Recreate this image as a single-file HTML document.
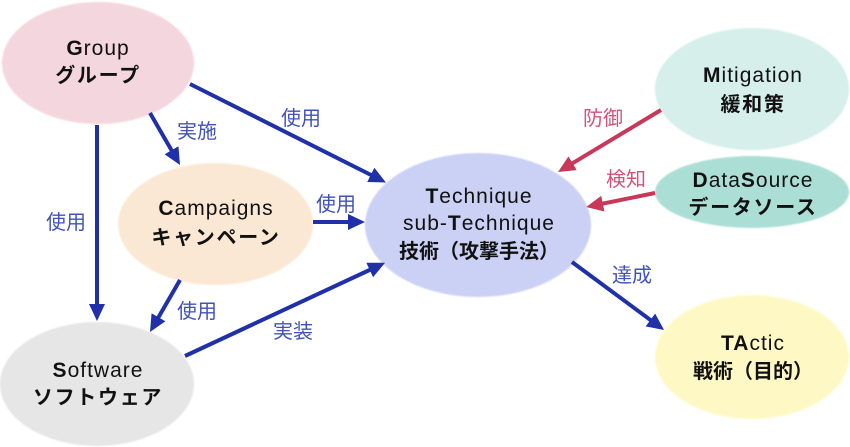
<!DOCTYPE html>
<html><head><meta charset="utf-8"><style>
html,body{margin:0;padding:0;background:#fff;}
svg{display:block;}
.n{font-family:"Liberation Sans","Noto Sans CJK JP",sans-serif;font-size:21px;fill:#111;letter-spacing:1px;}
.j{font-family:"Liberation Sans","Noto Sans CJK JP",sans-serif;font-size:20px;font-weight:bold;fill:#111;letter-spacing:1.7px;}
.l{font-family:"Liberation Sans","Noto Sans CJK JP",sans-serif;font-size:20px;fill:#4152b9;}
.r{font-family:"Liberation Sans","Noto Sans CJK JP",sans-serif;font-size:20px;fill:#cf5479;}
</style></head><body>
<svg width="850" height="447" viewBox="0 0 850 447" xmlns="http://www.w3.org/2000/svg">
<defs>
<filter id="s" x="-5%" y="-5%" width="110%" height="110%"><feGaussianBlur stdDeviation="0.9"/></filter>
<marker id="mb" markerUnits="userSpaceOnUse" markerWidth="18" markerHeight="18" refX="7" refY="8" orient="auto"><path d="M0,0 L17,8 L0,16 z" fill="#1f30a8"/></marker>
<marker id="mr" markerUnits="userSpaceOnUse" markerWidth="18" markerHeight="18" refX="7" refY="8" orient="auto"><path d="M0,0 L17,8 L0,16 z" fill="#c8385a"/></marker>
</defs>
<g filter="url(#s)">
<ellipse cx="98" cy="63" rx="96" ry="61" fill="#f4d6de"/>
<ellipse cx="215.5" cy="224" rx="97.5" ry="61" fill="#fbe8d4"/>
<ellipse cx="97" cy="384" rx="97" ry="62" fill="#e6e6e6"/>
<ellipse cx="478" cy="225" rx="113" ry="72" fill="#cbd0f5"/>
<ellipse cx="752" cy="89" rx="97" ry="61" fill="#d6efeb"/>
<ellipse cx="752" cy="192" rx="97" ry="36" fill="#abdfd6"/>
<ellipse cx="752" cy="357" rx="97" ry="62" fill="#fef9c4"/>
</g>
<g stroke="#1f30a8" stroke-width="4" fill="none">
<line x1="190" y1="84" x2="377" y2="178" marker-end="url(#mb)"/>
<line x1="150" y1="113" x2="175" y2="156.3" marker-end="url(#mb)"/>
<line x1="97" y1="125" x2="97" y2="311" marker-end="url(#mb)"/>
<line x1="313" y1="222" x2="355" y2="222" marker-end="url(#mb)"/>
<line x1="180" y1="280" x2="155" y2="323.3" marker-end="url(#mb)"/>
<line x1="185" y1="356" x2="376" y2="267" marker-end="url(#mb)"/>
<line x1="572" y1="262" x2="656" y2="324.1" marker-end="url(#mb)"/>
</g>
<g stroke="#c8385a" stroke-width="4" fill="none">
<line x1="661" y1="110" x2="566.6" y2="166.8" marker-end="url(#mr)"/>
<line x1="655" y1="193" x2="596" y2="205" marker-end="url(#mr)"/>
</g>
<g text-anchor="middle">
<text class="n" x="98" y="55"><tspan font-weight="bold">G</tspan>roup</text>
<text class="j" x="98" y="82">グループ</text>
<text class="n" x="216" y="215"><tspan font-weight="bold">C</tspan>ampaigns</text>
<text class="j" x="216" y="244">キャンペーン</text>
<text class="n" x="479" y="203"><tspan font-weight="bold">T</tspan>echnique</text>
<text class="n" x="479" y="230">sub-<tspan font-weight="bold">T</tspan>echnique</text>
<text class="j" x="479" y="258" style="letter-spacing:0px">技術（攻撃手法）</text>
<text class="n" x="753" y="82"><tspan font-weight="bold">M</tspan>itigation</text>
<text class="j" x="753" y="111">緩和策</text>
<text class="n" x="753" y="187"><tspan font-weight="bold">D</tspan>ata<tspan font-weight="bold">S</tspan>ource</text>
<text class="j" x="753" y="214">データソース</text>
<text class="n" x="98" y="377"><tspan font-weight="bold">S</tspan>oftware</text>
<text class="j" x="98" y="404">ソフトウェア</text>
<text class="n" x="753" y="350"><tspan font-weight="bold">TA</tspan>ctic</text>
<text class="j" x="753" y="378" style="letter-spacing:0px">戦術（目的）</text>

<text class="l" x="301" y="125">使用</text>
<text class="l" x="197" y="138">実施</text>
<text class="l" x="336" y="211">使用</text>
<text class="l" x="66" y="229">使用</text>
<text class="l" x="197" y="318">使用</text>
<text class="l" x="293" y="338">実装</text>
<text class="r" x="603" y="125">防御</text>
<text class="r" x="626" y="186">検知</text>
<text class="l" x="632" y="282">達成</text>
</g>
</svg>
</body></html>
